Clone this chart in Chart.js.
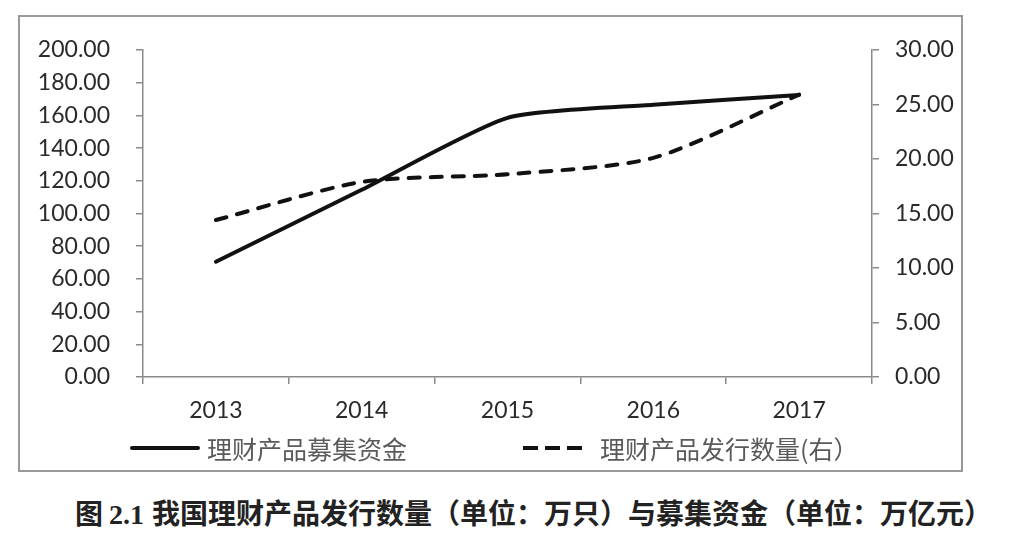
<!DOCTYPE html>
<html>
<head>
<meta charset="utf-8">
<script src="https://cdn.jsdelivr.net/npm/chart.js@4.4.0/dist/chart.umd.min.js"></script>
<style>
  body { margin: 0; background: #fff; width: 1034px; height: 547px; position: relative; overflow: hidden; }
  #frame { position: absolute; left: 18px; top: 15px; width: 945px; height: 457px; border: 2px solid #999; box-sizing: border-box; }
  #chart { display: block; }
  .legend-item { position: absolute; top: 430px; height: 36px; display: flex; align-items: center;
    font-family: "Noto Sans CJK SC", sans-serif; font-size: 25px; color: #5a5a5a; white-space: nowrap; }
  .swatch { height: 4px; margin-right: 7px; }
  .solid { width: 70px; background: #111; border-radius: 2px; }
  .dashed { width: 60px; margin-right: 17px; background: repeating-linear-gradient(90deg, #111 0 15px, transparent 15px 22px); }
  #caption { position: absolute; left: 75px; top: 494px; font-family: "Noto Sans CJK SC", sans-serif; font-weight: bold;
    font-size: 28px; color: #222; white-space: nowrap; line-height: 36px; }
  #caption .num { font-family: "Liberation Serif", serif; margin: 0 8px 0 6px; }
</style>
</head>
<body>
<div id="frame"><canvas id="chart" width="941" height="453"></canvas></div>
<div class="legend-item" style="left:130px"><span class="swatch solid"></span><span id="lg1"></span></div>
<div class="legend-item" style="left:523px"><span class="swatch dashed"></span><span id="lg2"></span></div>
<div id="caption">图<span class="num">2.1</span>我国理财产品发行数量（单位：万只）与募集资金（单位：万亿元）</div>
<script>
// categories and series
const years = ["2013", "2014", "2015", "2016", "2017"];
const fundsRaised = [70.5, 114.5, 158.5, 166.5, 172.5];   // 左轴
const productCount = [14.4, 17.9, 18.6, 20.1, 25.9];     // 右轴
const seriesNames = ["理财产品募集资金", "理财产品发行数量(右）"];

document.getElementById('lg1').textContent = seriesNames[0];
document.getElementById('lg2').textContent = seriesNames[1];

const axisGray = "#8a8a8a";
const tickFont = { family: "Lato, 'Liberation Sans', sans-serif", size: 23 };

// keep the big label padding from pushing the plot area down
function fixY(width) {
    return (s) => { s.width = width; s.paddingTop = 12; s.paddingBottom = 12; };
}

new Chart(document.getElementById('chart'), {
    type: "line",
    data: {
        labels: years,
        datasets: [
            {
                label: seriesNames[0],
                data: fundsRaised,
                yAxisID: "y",
                borderColor: "#111",
                borderWidth: 4,
                borderCapStyle: "round",
                borderJoinStyle: "round",
                tension: 0.2,
                pointRadius: 0,
                fill: false
            },
            {
                label: seriesNames[1],
                data: productCount,
                yAxisID: "y1",
                borderColor: "#111",
                borderWidth: 4,
                borderDash: [11, 11],
                borderCapStyle: "round",
                tension: 0.25,
                pointRadius: 0,
                fill: false
            }
        ]
    },
    options: {
        responsive: false,
        animation: false,
        layout: { padding: { left: 0, right: 0, top: 33, bottom: 43 } },
        plugins: {
            legend: { display: false },
            tooltip: { enabled: false }
        },
        scales: {
            x: {
                offset: true,
                grid: { offset: true, drawOnChartArea: false, tickLength: 7, color: axisGray, lineWidth: 1.5 },
                border: { color: axisGray, width: 1.5 },
                ticks: { color: "#2a2a2a", font: tickFont, padding: 13, maxRotation: 0 },
                afterFit: (s) => { s.height = 50; }
            },
            y: {
                position: "left",
                min: 0, max: 200,
                grid: { drawOnChartArea: false, tickLength: 7, color: axisGray, lineWidth: 1.5 },
                border: { color: axisGray, width: 1.5 },
                ticks: { stepSize: 20, color: "#2a2a2a", font: tickFont, padding: 26,
                    callback: (v) => v.toFixed(2) },
                afterFit: fixY(123)
            },
            y1: {
                position: "right",
                min: 0, max: 30,
                grid: { drawOnChartArea: false, tickLength: 7, color: axisGray, lineWidth: 1.5 },
                border: { color: axisGray, width: 1.5 },
                ticks: { stepSize: 5, color: "#2a2a2a", font: tickFont, padding: 16,
                    callback: (v) => v.toFixed(2) },
                afterFit: fixY(89)
            }
        }
    }
});
</script>
</body>
</html>
